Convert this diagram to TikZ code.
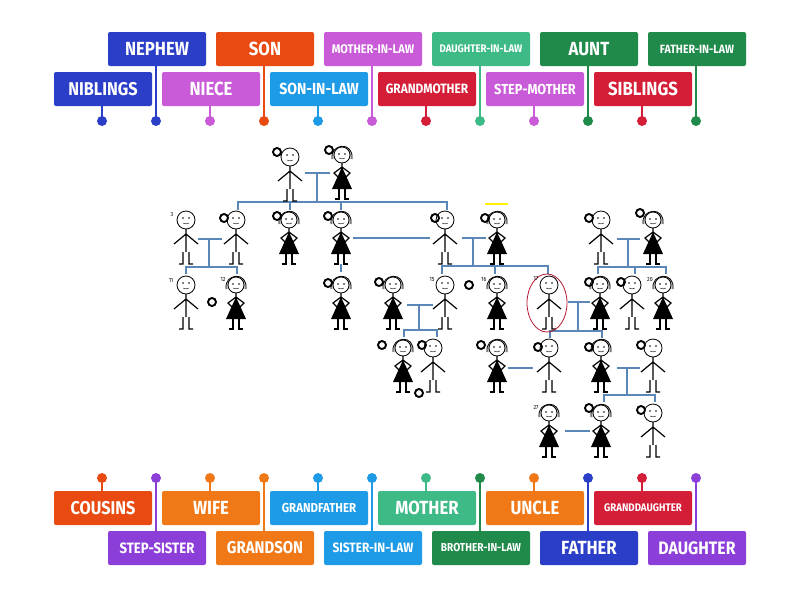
\documentclass[tikz,border=0pt]{standalone}
\usepackage{fontspec}
\setmainfont[FakeStretch=0.88]{Fira Sans}
\definecolor{cBlue}{HTML}{2A3EC8}
\definecolor{cRed}{HTML}{E84A12}
\definecolor{cLilac}{HTML}{C95AD8}
\definecolor{cSky}{HTML}{1E9BE6}
\definecolor{cCrim}{HTML}{D41E38}
\definecolor{cTeal}{HTML}{3DBA86}
\definecolor{cGreen}{HTML}{1F8A4A}
\definecolor{cOrange}{HTML}{F07816}
\definecolor{cPurple}{HTML}{8C3ED8}
\definecolor{cLine}{HTML}{5A86B8}
\tikzset{
  tag/.style={rounded corners=2pt, fill=#1, text=white, font=\bfseries,
    minimum width=98pt, minimum height=34pt, inner sep=1pt},
  pinline/.style={line width=2.2pt, draw=#1},
  fam/.style={cLine, line width=1.6pt},
  ring/.style={line width=1.9pt},
  man/.pic={
    \draw[thick, fill=white] (0,0) circle (9);
    \fill (-3,-2) circle (0.9) (3,-2) circle (0.9);
    \draw (-3,3) to[bend right] (3,3);
    \draw[line width=1.2pt] (0,9) -- (0,32) (0,14) -- (-12,24) (0,14) -- (12,24)
      (-3,32) -- (-3,44) -- (-7,44) (3,32) -- (3,44) -- (7,44);
  },
  woman/.pic={
    \fill[gray!45] (-10,4) .. controls (-12,-12) and (12,-14) .. (10,4) -- cycle;
    \draw[thick] (-10,4) .. controls (-12,-12) and (12,-14) .. (10,4);
    \draw[thick, fill=white] (0,0) circle (8);
    \fill (-3,-1) circle (0.9) (3,-1) circle (0.9);
    \draw (-3,3) to[bend right] (3,3);
    \draw[line width=1.2pt] (0,8) -- (0,16) (0,12) -- (-8,18) -- (-4,22) (0,12) -- (8,18) -- (4,22);
    \fill (0,12) -- (-10,34) -- (10,34) -- cycle;
    \draw[line width=1.2pt] (-3,34) -- (-3,44) -- (-7,44) (3,34) -- (3,44) -- (7,44);
  }
}
\begin{document}
\begin{tikzpicture}[x=1pt, y=-1pt]
  \useasboundingbox (0,0) rectangle (800,600);

  % tags on top: x/y/colour/size/name/text
  \foreach \x/\y/\c/\s/\nm/\t in {
      157/49/cBlue/19/nephew/NEPHEW, 265/49/cRed/19/son/SON,
      373/49/cLilac/12.5/motherinlaw/MOTHER-IN-LAW, 481/49/cTeal/11/daughterinlaw/DAUGHTER-IN-LAW,
      589/49/cGreen/19/aunt/AUNT, 697/49/cGreen/12/fatherinlaw/FATHER-IN-LAW,
      103/89/cBlue/18.5/niblings/NIBLINGS, 211/89/cLilac/19/niece/NIECE,
      319/89/cSky/16/soninlaw/SON-IN-LAW, 427/89/cCrim/13.5/grandmother/GRANDMOTHER,
      535/89/cLilac/14.5/stepmother/STEP-MOTHER, 643/89/cCrim/19/siblings/SIBLINGS} {
    \coordinate (p-\nm) at (\x-1,121);
    \draw[pinline=\c] (\x-1,\y) -- (p-\nm);
    \fill[\c] (p-\nm) circle (5);
    \node[tag=\c, font=\bfseries\fontsize{\s}{\s}\selectfont] (\nm) at (\x,\y) {\t};
  }
  % tags at the bottom
  \foreach \x/\y/\c/\s/\nm/\t in {
      103/508/cRed/18.5/cousins/COUSINS, 211/508/cOrange/19/wife/WIFE,
      319/508/cSky/13/grandfather/GRANDFATHER, 427/508/cTeal/19/mother/MOTHER,
      535/508/cOrange/19/uncle/UNCLE, 643/508/cCrim/11/granddaughter/GRANDDAUGHTER,
      157/548/cPurple/15/stepsister/STEP-SISTER, 265/548/cOrange/17/grandson/GRANDSON,
      373/548/cSky/13.5/sisterinlaw/SISTER-IN-LAW, 481/548/cGreen/11.5/brotherinlaw/BROTHER-IN-LAW,
      589/548/cBlue/19/father/FATHER, 697/548/cPurple/18/daughter/DAUGHTER} {
    \coordinate (p-\nm) at (\x-1,478);
    \draw[pinline=\c] (\x-1,\y) -- (p-\nm);
    \fill[\c] (p-\nm) circle (5);
    \node[tag=\c, font=\bfseries\fontsize{\s}{\s}\selectfont] (\nm) at (\x,\y) {\t};
  }

  % family lines
  \draw[fam] (305,173) -- (330,173) (317,173) -- (317,202)
    (238,210) |- (447,202) -- (447,210) (290,202) -- (290,210) (341,202) -- (341,210);
  \draw[fam] (198,239) -- (222,239) (209,239) -- (209,267) (186,274) |- (237,267) -- (237,274);
  \draw[fam] (353,238) -- (430,238) (341,264) -- (341,272);
  \draw[fam] (462,238) -- (486,238) (473,238) -- (473,266)
    (442,274) |- (548,266) -- (548,274) (495,266) -- (495,274);
  \draw[fam] (617,239) -- (640,239) (628,239) -- (628,267)
    (598,274) |- (666,267) -- (666,274) (635,267) -- (635,274);
  \draw[fam] (407,305) -- (433,305) (419,305) -- (419,330) (404,337) |- (437,330) -- (437,337);
  \draw[fam] (568,302) -- (590,302) (578,302) -- (578,331) (550,338) |- (602,331) -- (602,338);
  \draw[fam] (508,368) -- (533,368) (617,368) -- (640,368) (627,368) -- (627,395)
    (604,402) |- (655,395) -- (655,402);
  \draw[fam] (565,431) -- (590,431);

  % people
  \foreach \px/\py in {290/157, 186/220, 236/220, 445/220, 601/220, 186/285,
      445/285, 549/285, 632/285, 433/348, 549/348, 653/348, 653/413}
    \pic at (\px,\py) {man};
  \foreach \px/\py in {342/155, 289/220, 341/220, 497/220, 653/220, 236/285,
      341/285, 393/285, 497/285, 600/285, 663/285, 403/348, 497/348, 601/348,
      549/413, 601/413}
    \pic at (\px,\py) {woman};

  % rings
  \foreach \px/\py in {277/152, 329/150, 224/218, 277/216, 328/216, 435/218, 485/218,
      589/218, 640/213, 212/302, 328/283, 379/282, 469/285, 589/282, 621/282,
      382/345, 422/345, 419/393, 481/345, 538/347, 589/347, 641/345, 589/408, 641/410}
    \draw[ring] (\px,\py) circle (4);

  \draw[yellow, line width=2.5pt] (485,204) -- (508,204);
  \draw[cCrim!85!black, thick] (547,303) ellipse (20 and 29);

  \foreach \px/\py/\n in {172/214/3, 171/280/11, 223/279/12, 432/280/15, 484/279/16,
      536/279/17, 650/279/20, 536/407/27}
    \node[font=\fontsize{6}{6}\selectfont, inner sep=0] at (\px,\py) {\n};
\end{tikzpicture}
\end{document}
